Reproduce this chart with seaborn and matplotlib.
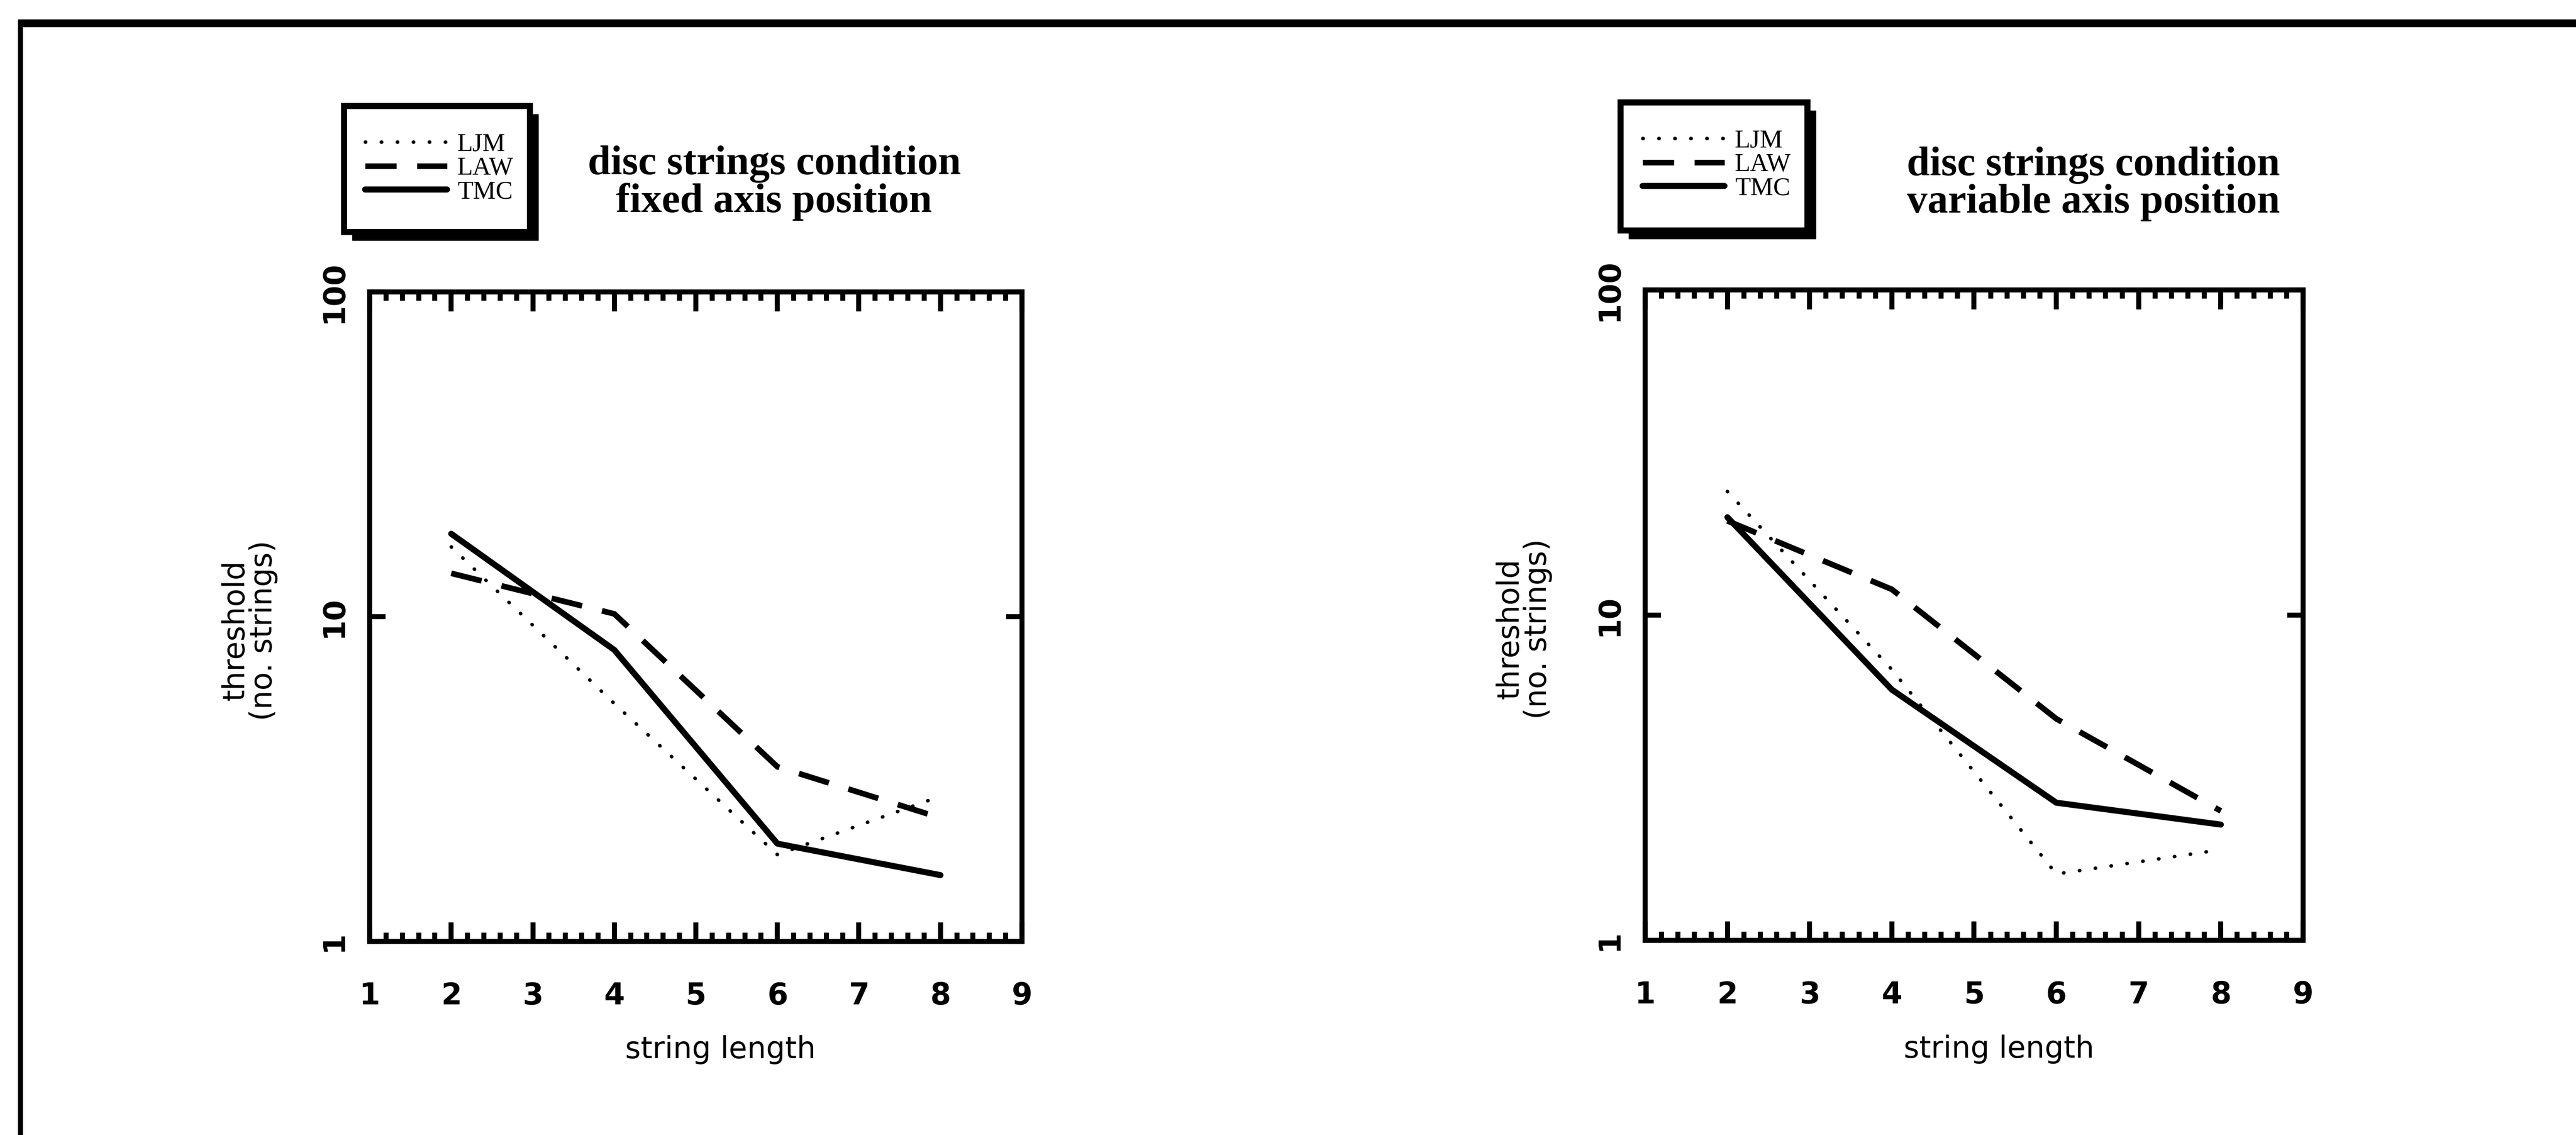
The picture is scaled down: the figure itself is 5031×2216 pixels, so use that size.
import numpy as np
import pandas as pd
import matplotlib
matplotlib.use("Agg")
import matplotlib.pyplot as plt
import seaborn as sns
from matplotlib.patches import Rectangle
from matplotlib.lines import Line2D
from matplotlib.ticker import FixedLocator, NullLocator, MultipleLocator

# ---------------- data ----------------
string_length = [2, 4, 6, 8]
subjects = ["LJM", "LAW", "TMC"]

fixed_ljm = [16.4, 5.4, 1.85, 2.8]
fixed_law = [13.6, 10.2, 3.45, 2.4]
fixed_tmc = [18.0, 7.9, 2.0, 1.6]

variable_ljm = [24.0, 6.8, 1.6, 1.9]
variable_law = [19.5, 12.0, 4.8, 2.5]
variable_tmc = [20.0, 5.9, 2.65, 2.27]

panel_titles = ["disc strings condition\nfixed axis position",
                "disc strings condition\nvariable axis position"]
x_ticks = [1, 2, 3, 4, 5, 6, 7, 8, 9]
x_tick_labels = ["1", "2", "3", "4", "5", "6", "7", "8", "9"]
y_ticks = [1, 10, 100]
y_tick_labels = ["1", "10", "100"]
x_label = "string length"
y_label = "threshold\n(no. strings)"

# ---------------- style ----------------
sns.set_theme(style="ticks")
plt.rcParams["font.family"] = ["DejaVu Sans"]
plt.rcParams["text.color"] = "black"
plt.rcParams["axes.labelcolor"] = "black"
plt.rcParams["xtick.color"] = "black"
plt.rcParams["ytick.color"] = "black"
plt.rcParams["xtick.labelcolor"] = "black"
plt.rcParams["ytick.labelcolor"] = "black"

W, H = 5031, 2216
fig = plt.figure(figsize=(W / 100, H / 100), dpi=100, facecolor="white")


def fx(px):
    return px / W


def fy(py):
    return 1 - py / H


line_styles = {
    "LJM": dict(lw=5.0, linestyle=(0, (0.1, 4.4)), dash_capstyle="round"),
    "LAW": dict(lw=8.0, linestyle=(0, (5.5, 3.6)), dash_capstyle="butt"),
    "TMC": dict(lw=8.5, linestyle="-", solid_capstyle="round"),
}

panels = [
    dict(data=[fixed_ljm, fixed_law, fixed_tmc], box=(722, 570, 1996, 1838),
         title_xy=(1512, 357), leg_box=(672, 207, 1035, 453), leg_c=(858, 329)),
    dict(data=[variable_ljm, variable_law, variable_tmc], box=(3213, 566, 4498, 1836),
         title_xy=(4088, 359), leg_box=(3165, 200, 3530, 450), leg_c=(3353, 322)),
]

for i, p in enumerate(panels):
    x0, y0, x1, y1 = p["box"]
    ax = fig.add_axes([fx(x0), fy(y1), (x1 - x0) / W, (y1 - y0) / H])
    ax.set_facecolor("white")

    df = pd.DataFrame({
        "string length": np.tile(string_length, len(subjects)),
        "threshold": np.concatenate(p["data"]),
        "subject": np.repeat(subjects, len(string_length)),
    })
    for subj in subjects:
        sub = df[df["subject"] == subj]
        sns.lineplot(data=sub, x="string length", y="threshold", ax=ax,
                     color="black", errorbar=None, legend=False, label=subj,
                     **line_styles[subj])

    ax.set_yscale("log")
    ax.set_xlim(1, 9)
    ax.set_ylim(1, 100)

    ax.xaxis.set_major_locator(FixedLocator(x_ticks))
    ax.xaxis.set_minor_locator(MultipleLocator(0.2))
    ax.set_xticklabels(x_tick_labels)
    ax.yaxis.set_major_locator(FixedLocator(y_ticks))
    ax.yaxis.set_minor_locator(NullLocator())
    ax.set_yticklabels(y_tick_labels, rotation=90, va="center")

    ax.tick_params(axis="both", which="both", direction="in", top=True,
                   right=True, width=7, color="black", labelcolor="black")
    ax.tick_params(axis="x", which="major", length=27, pad=56, labelsize=42)
    ax.tick_params(axis="x", which="minor", length=12)
    ax.tick_params(axis="y", which="major", length=22, pad=30, labelsize=42)
    for lbl in ax.get_xticklabels() + ax.get_yticklabels():
        lbl.set_fontweight("bold")
        lbl.set_color("black")

    for s in ax.spines.values():
        s.set_linewidth(7)
        s.set_color("black")
        s.set_visible(True)

    ax.set_xlabel(x_label, fontsize=42, va="center", color="black")
    ax.xaxis.set_label_coords(0.538, -0.167)
    ax.set_ylabel(y_label, fontsize=42, va="center", linespacing=0.95, color="black")
    ax.yaxis.set_label_coords(-0.184, 0.479)

    # title text
    tx, ty = p["title_xy"]
    fig.text(fx(tx), fy(ty), panel_titles[i], ha="center", va="center",
             fontsize=58, fontweight="bold", family="Liberation Serif",
             linespacing=1.0, color="black")

    # legend box with shadow
    bx0, by0, bx1, by1 = p["leg_box"]
    shadow = Rectangle((fx(bx0 + 16), fy(by1 + 16)), (bx1 - bx0) / W, (by1 - by0) / H,
                       transform=fig.transFigure, facecolor="black",
                       edgecolor="black", zorder=1)
    frame = Rectangle((fx(bx0), fy(by1)), (bx1 - bx0) / W, (by1 - by0) / H,
                      transform=fig.transFigure, facecolor="white",
                      edgecolor="black", lw=8.5, zorder=2)
    fig.add_artist(shadow)
    fig.add_artist(frame)

    lcx, lcy = p["leg_c"]
    leg = fig.legend(handles=ax.get_lines(), labels=subjects, loc="center",
                     bbox_to_anchor=(fx(lcx), fy(lcy)),
                     bbox_transform=fig.transFigure, frameon=False,
                     prop={"family": "Liberation Serif", "size": 36},
                     handlelength=3.2, handletextpad=0.4, labelspacing=0.0,
                     borderpad=0, borderaxespad=0)
    for t in leg.get_texts():
        t.set_color("black")
    leg.set_zorder(5)

# outer frame of the figure
fig.add_artist(Line2D([fx(35), 1.0], [fy(45), fy(45)], transform=fig.transFigure,
                      color="black", lw=11, solid_capstyle="butt"))
fig.add_artist(Line2D([fx(40), fx(40)], [fy(40), 0.0], transform=fig.transFigure,
                      color="black", lw=7, solid_capstyle="butt"))

fig.savefig("out.png", dpi=100, facecolor="white")
